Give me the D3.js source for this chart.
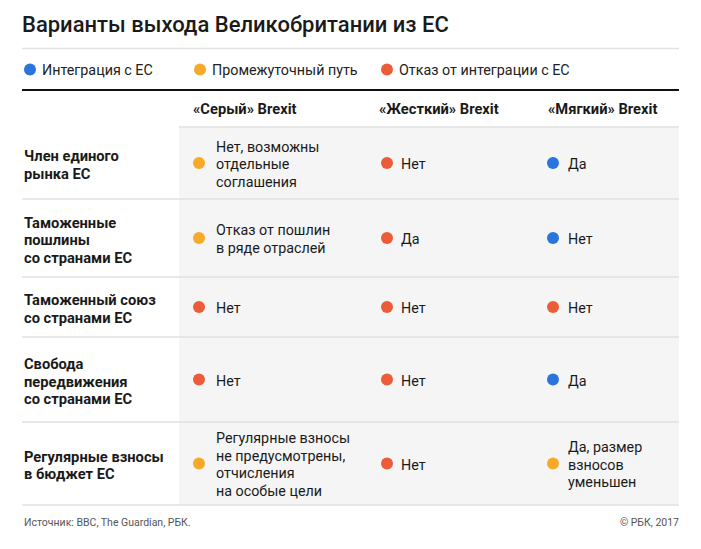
<!DOCTYPE html>
<html><head><meta charset="utf-8">
<script src="https://cdn.jsdelivr.net/npm/d3@7"></script>
<style>
html,body{margin:0;padding:0;background:#fff;}
svg{display:block;font-family:Roboto,"Noto Sans",sans-serif;}
</style></head>
<body>
<svg id="chart" width="701" height="549"></svg>
<script>
// ---- data ----
const title = "Варианты выхода Великобритании из ЕС";
const statusKeys = ["integration", "intermediate", "rejection"];
const legendLabels = ["Интеграция с ЕС", "Промежуточный путь", "Отказ от интеграции с ЕС"];
const scenarios = ["«Серый» Brexit", "«Жесткий» Brexit", "«Мягкий» Brexit"];
const criteria = [
  ["Член единого", "рынка ЕС"],
  ["Таможенные", "пошлины", "со странами ЕС"],
  ["Таможенный союз", "со странами ЕС"],
  ["Свобода", "передвижения", "со странами ЕС"],
  ["Регулярные взносы", "в бюджет ЕС"]
];
const grayText = [
  ["Нет, возможны", "отдельные", "соглашения"],
  ["Отказ от пошлин", "в ряде отраслей"],
  ["Нет"],
  ["Нет"],
  ["Регулярные взносы", "не предусмотрены,", "отчисления", "на особые цели"]
];
const grayStatus = ["intermediate", "intermediate", "rejection", "rejection", "intermediate"];
const hardText = [["Нет"], ["Да"], ["Нет"], ["Нет"], ["Нет"]];
const hardStatus = ["rejection", "rejection", "rejection", "rejection", "rejection"];
const softText = [["Да"], ["Нет"], ["Нет"], ["Да"], ["Да, размер", "взносов", "уменьшен"]];
const softStatus = ["integration", "integration", "rejection", "integration", "intermediate"];
const source = "Источник: BBC, The Guardian, РБК.";
const copyright = "© РБК, 2017";

// ---- layout ----
const L = 22, R = 679;
const tableLeft = 179;
const rowHeights = [72, 78, 60, 85, 83];
const tableTop = 127;
const circleX = [199, 387, 553];
const textX = [216, 401, 568];
const headerX = [193, 379, 548];
const lineH = 17.5;
const bodySize = 14.3, boldSize = 14.7;

const color = d3.scaleOrdinal().domain(statusKeys).range(["#2a74dc", "#f6aa28", "#ec5c38"]);

const svg = d3.select("#chart");

// title
svg.append("text").attr("x", L).attr("y", 32)
  .attr("font-size", 22).attr("font-weight", 500).attr("fill", "#1a1a1a").text(title);
svg.append("line").attr("x1", L).attr("x2", R).attr("y1", 48.5).attr("y2", 48.5)
  .attr("stroke", "#e2e2e2").attr("stroke-width", 1.5);

// legend
const legendX = d3.scaleOrdinal().domain(statusKeys).range([30, 200, 387]);
const lg = svg.append("g").selectAll("g").data(statusKeys).join("g")
  .attr("transform", d => `translate(${legendX(d)},69.5)`);
lg.append("circle").attr("r", 6).attr("fill", d => color(d));
lg.append("text").attr("x", 12).attr("dy", "0.35em").attr("font-size", bodySize).attr("fill", "#222")
  .text((d, i) => legendLabels[i]);

svg.append("line").attr("x1", L).attr("x2", R).attr("y1", 90).attr("y2", 90)
  .attr("stroke", "#111").attr("stroke-width", 2);

// rows geometry
const rowTops = [];
let acc = tableTop;
rowHeights.forEach(h => { rowTops.push(acc); acc += h; });
const tableBottom = acc;

// gray background
svg.append("rect").attr("x", tableLeft).attr("y", tableTop)
  .attr("width", R - tableLeft).attr("height", tableBottom - tableTop).attr("fill", "#f5f5f5");

// headers
const colScale = d3.scaleOrdinal().domain(scenarios).range(headerX);
svg.append("g").selectAll("text").data(scenarios).join("text")
  .attr("x", d => colScale(d)).attr("y", 108.5).attr("dy", "0.35em")
  .attr("font-size", boldSize).attr("font-weight", 700).attr("fill", "#1a1a1a").text(d => d);

svg.append("line").attr("x1", tableLeft).attr("x2", R).attr("y1", tableTop).attr("y2", tableTop)
  .attr("stroke", "#e0e0e0").attr("stroke-width", 1.5);

// row separators
svg.append("g").selectAll("line").data(rowTops.slice(1).concat([tableBottom])).join("line")
  .attr("x1", L).attr("x2", R).attr("y1", d => d).attr("y2", d => d)
  .attr("stroke", "#e0e0e0").attr("stroke-width", 1.5);

function multiline(g, lines, x, cy, weight, size) {
  const t = g.append("text").attr("font-size", size).attr("font-weight", weight).attr("fill", "#1a1a1a");
  const y0 = cy - (lines.length - 1) * lineH / 2;
  lines.forEach((ln, i) => {
    t.append("tspan").attr("x", x).attr("y", y0 + i * lineH).attr("dy", "0.35em").text(ln);
  });
}

const columns = [
  { text: grayText, status: grayStatus },
  { text: hardText, status: hardStatus },
  { text: softText, status: softStatus }
];

criteria.forEach((lab, r) => {
  const cy = rowTops[r] + rowHeights[r] / 2;
  const g = svg.append("g");
  multiline(g, lab, 24, cy + 2, 700, boldSize);
  columns.forEach((col, c) => {
    g.append("circle").attr("cx", circleX[c]).attr("cy", cy).attr("r", 6)
      .attr("fill", color(col.status[r]));
    multiline(g, col.text[r], textX[c], cy + 1, 400, bodySize);
  });
});

// footer
svg.append("text").attr("x", 24).attr("y", 526).attr("font-size", 10.5).attr("fill", "#555").text(source);
svg.append("text").attr("x", R).attr("y", 526).attr("text-anchor", "end")
  .attr("font-size", 10.5).attr("fill", "#555").text(copyright);
</script>
</body></html>
